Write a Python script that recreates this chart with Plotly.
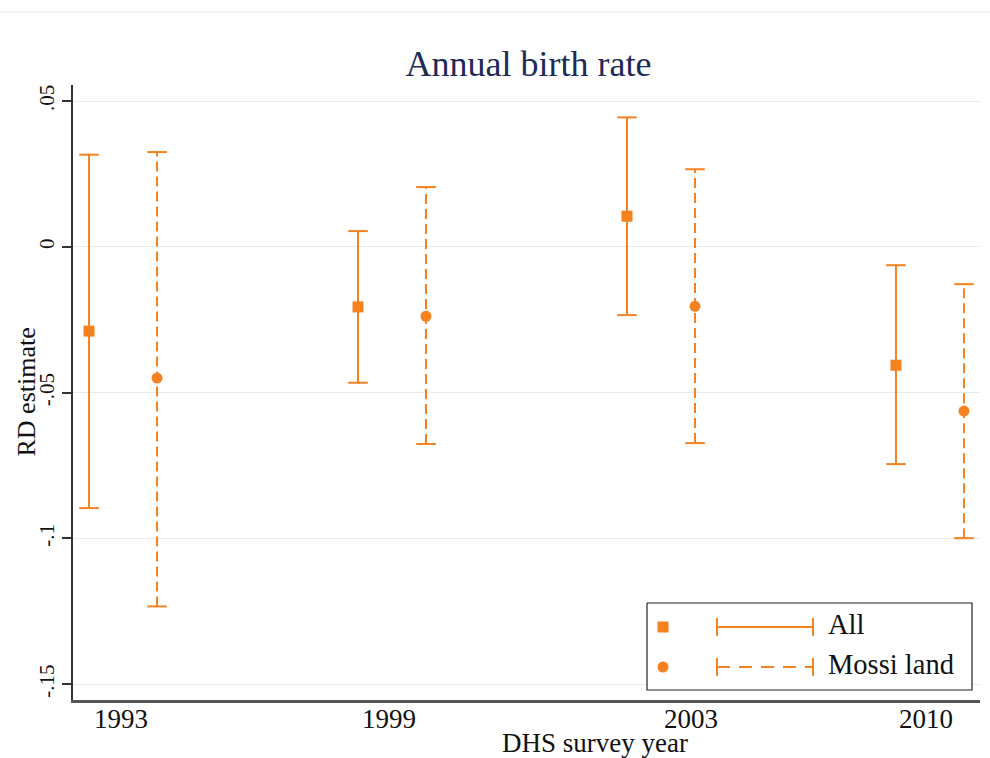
import plotly.graph_objects as go

# Survey rounds and RD estimates with 95% confidence bounds
years = ["1993", "1999", "2003", "2010"]

all_est = [-0.0289, -0.0206, 0.0105, -0.0406]
all_lo = [-0.0896, -0.0466, -0.0234, -0.0745]
all_hi = [0.0316, 0.0054, 0.0444, -0.0063]

mossi_est = [-0.0450, -0.0238, -0.0204, -0.0563]
mossi_lo = [-0.1233, -0.0676, -0.0673, -0.0999]
mossi_hi = [0.0325, 0.0205, 0.0266, -0.0128]

y_ticks = [0.05, 0.0, -0.05, -0.1, -0.15]
y_tick_text = [".05", "0", "-.05", "-.1", "-.15"]

ORANGE = "#F5821F"
SERIF = "Liberation Serif, Times New Roman, serif"
OFFSET = 0.1264
tick_pos = [-0.008, 0.989, 2.112, 2.985]

fig = go.Figure()


def add_series(est, lo, hi, shift, symbol, dash):
    xs = [i + shift for i in range(len(est))]
    lx, ly = [], []
    for x, a, b in zip(xs, lo, hi):
        lx += [x, x, None]
        ly += [a, b, None]
    fig.add_trace(go.Scatter(x=lx, y=ly, mode="lines",
                             line=dict(color=ORANGE, width=2, dash=dash),
                             hoverinfo="skip", showlegend=False))
    fig.add_trace(go.Scatter(x=xs + xs, y=lo + hi, mode="markers",
                             marker=dict(symbol="line-ew", size=14,
                                         line=dict(color=ORANGE, width=2)),
                             hoverinfo="skip", showlegend=False))
    fig.add_trace(go.Scatter(x=xs, y=est, mode="markers",
                             marker=dict(symbol=symbol, size=11, color=ORANGE),
                             showlegend=False))


add_series(all_est, all_lo, all_hi, -OFFSET, "square", "solid")
add_series(mossi_est, mossi_lo, mossi_hi, OFFSET, "circle", "10px,5px")

# Key box drawn on a pixel-scaled overlay of the plot area
fig.add_trace(go.Scatter(x=[647, 972, 972, 647, 647], y=[603, 603, 690, 690, 603],
                         mode="lines", fill="toself", fillcolor="white",
                         line=dict(color="#222222", width=1.2), xaxis="x2", yaxis="y2",
                         hoverinfo="skip", showlegend=False))

legend_rows = [("All", "square", "solid", 627), ("Mossi land", "circle", "13px,9px", 667)]
for label, symbol, dash, ry in legend_rows:
    fig.add_trace(go.Scatter(x=[663], y=[ry], mode="markers", xaxis="x2", yaxis="y2",
                             marker=dict(symbol=symbol, size=11, color=ORANGE),
                             hoverinfo="skip", showlegend=False))
    fig.add_trace(go.Scatter(x=[717, 813], y=[ry, ry], mode="lines", xaxis="x2", yaxis="y2",
                             line=dict(color=ORANGE, width=2, dash=dash),
                             hoverinfo="skip", showlegend=False))
    fig.add_trace(go.Scatter(x=[717, 813], y=[ry, ry], mode="markers", xaxis="x2", yaxis="y2",
                             marker=dict(symbol="line-ns", size=13,
                                         line=dict(color=ORANGE, width=2)),
                             hoverinfo="skip", showlegend=False))
    fig.add_trace(go.Scatter(x=[828], y=[ry], mode="text", xaxis="x2", yaxis="y2",
                             text=[label], textposition="middle right",
                             textfont=dict(family=SERIF, size=28.5, color="#111111"),
                             hoverinfo="skip", showlegend=False))

fig.add_shape(type="line", xref="paper", yref="paper", x0=-1, x1=2,
              y0=(700 - 12) / 615, y1=(700 - 12) / 615,
              line=dict(color="#F0F0F0", width=1.5))

fig.update_layout(
    width=990, height=758,
    margin=dict(l=73, r=10, t=85, b=58),
    paper_bgcolor="white", plot_bgcolor="white",
    title=dict(text="Annual birth rate", x=528.5 / 990, xref="container", xanchor="center",
               y=1 - 63 / 758, yref="container", yanchor="middle",
               font=dict(family=SERIF, size=36, color="#1E2A58")),
    xaxis=dict(range=[-0.186, 3.186], tickmode="array", tickvals=tick_pos, ticktext=years,
               showgrid=False, zeroline=False, showline=True, linecolor="#555555", linewidth=2.5,
               ticks="", ticklabelstandoff=-7,
               tickfont=dict(family=SERIF, size=27, color="#111111")),
    yaxis=dict(range=[-0.1554, 0.0555], tickmode="array", tickvals=y_ticks, ticktext=y_tick_text,
               tickangle=-90, showgrid=True, gridcolor="#EBEBEB", gridwidth=1, zeroline=False,
               showline=True, linecolor="#333333", linewidth=2, ticks="outside", ticklen=9,
               tickwidth=1.5, tickcolor="#333333",
               tickfont=dict(family=SERIF, size=21, color="#111111")),
    xaxis2=dict(overlaying="x", anchor="y2", range=[73, 980], visible=False),
    yaxis2=dict(overlaying="y", anchor="x2", range=[700, 85], visible=False),
    annotations=[
        dict(text="DHS survey year", xref="paper", yref="paper",
             x=(595 - 73) / 907, y=(700 - 743) / 615, xanchor="center", yanchor="middle",
             showarrow=False, font=dict(family=SERIF, size=27, color="#111111")),
        dict(text="RD estimate", xref="paper", yref="paper", textangle=-90,
             x=(26 - 73) / 907, y=0.5, xanchor="center", yanchor="middle",
             showarrow=False, font=dict(family=SERIF, size=26, color="#111111")),
    ],
)

fig.write_html("out.html")
